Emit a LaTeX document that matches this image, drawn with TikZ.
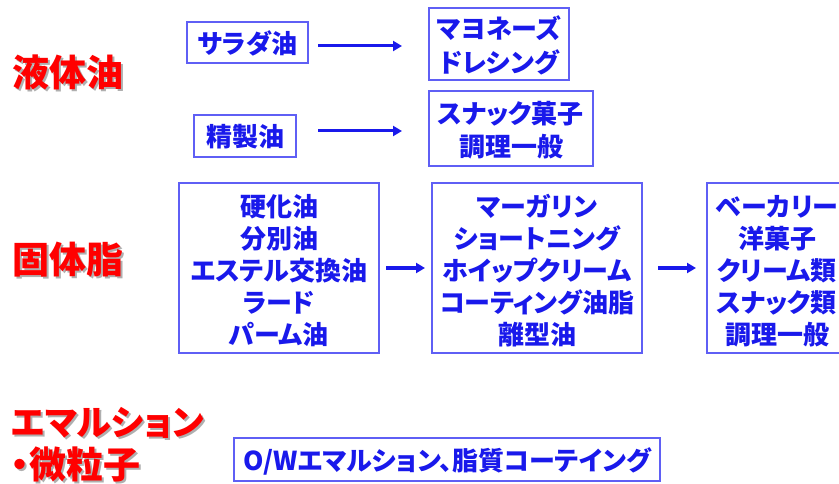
\documentclass[tikz,border=0pt]{standalone}
\usepackage{fontspec}
\setmainfont{Noto Sans CJK JP}[RawFeature=+palt]
\usetikzlibrary{arrows.meta}
\definecolor{txtblue}{RGB}{25,25,235}
\definecolor{boxblue}{RGB}{95,95,245}
\definecolor{lblred}{RGB}{255,0,0}
\definecolor{shgray}{RGB}{175,175,175}
\begin{document}
\begin{tikzpicture}[x=1pt,y=-1pt,
 box/.style={draw=boxblue, line width=1.3pt, inner sep=0pt},
 btxt/.style={text=txtblue, font=\fontsize{26}{32}\selectfont\bfseries, align=center, inner sep=0pt},
 btxttwo/.style={btxt, font=\fontsize{26}{33.5}\selectfont\bfseries},
 arr/.style={draw=txtblue, line width=3pt, -{Triangle[length=9pt,width=10pt]}},
 lbl/.style={text=lblred, font=\fontsize{37}{44}\selectfont\bfseries, anchor=west, inner sep=0pt},
 lblsh/.style={text=shgray, font=\fontsize{37}{44}\selectfont\bfseries, anchor=west, inner sep=0pt},
 lblsm/.style={lbl, font=\fontsize{35}{42}\selectfont\bfseries},
 lblshsm/.style={lblsh, font=\fontsize{35}{42}\selectfont\bfseries}]
\useasboundingbox (0,0) rectangle (839,484);
% left labels (shadow + text)
\node[lblsh] (l1s) at (14,74) {液体油};
\node[lbl] (l1) at (12,72) {液体油};
\node[lblsh] (l2s) at (14,262) {固体脂};
\node[lbl] (l2) at (12,260) {固体脂};
\node[lblshsm] (l3s) at (13,425) {エマルション};
\node[lblsm] (l3) at (11,423) {エマルション};
\node[lblsh] (l4s) at (13,466) {・微粒子};
\node[lbl] (l4) at (11,464) {・微粒子};
% boxes
\node[box, minimum width=121pt, minimum height=41pt] (salad) at (247.5,42.5) {};
\node[box, minimum width=140pt, minimum height=72pt] (mayo) at (499,44) {};
\node[box, minimum width=102pt, minimum height=42pt] (seisei) at (245,136) {};
\node[box, minimum width=164pt, minimum height=75pt] (snack) at (511,128.5) {};
\node[box, minimum width=200pt, minimum height=170pt] (kouka) at (279,268) {};
\node[box, minimum width=210pt, minimum height=170pt] (marg) at (537,268) {};
\node[box, minimum width=140pt, minimum height=170pt] (bake) at (777,268) {};
\node[box, minimum width=426pt, minimum height=43pt] (ow) at (447,459.5) {};
% box texts
\node[btxt] (saladt) at ([yshift=-1pt]salad.center) {サラダ油};
\node[btxttwo] (mayot) at ([yshift=-1.5pt]mayo.center) {マヨネーズ\\ドレシング};
\node[btxt] (seiseit) at ([yshift=-1pt]seisei.center) {精製油};
\node[btxttwo] (snackt) at ([yshift=-1.5pt]snack.center) {スナック菓子\\調理一般};
\node[btxt] (koukat) at ([yshift=-3pt]kouka.center) {硬化油\\分別油\\エステル交換油\\ラード\\パーム油};
\node[btxt] (margt) at ([yshift=-3pt]marg.center) {マーガリン\\ショートニング\\ホイップクリーム\\コーティング油脂\\離型油};
\node[btxt] (baket) at ([yshift=-3pt]bake.center) {ベーカリー\\洋菓子\\クリーム類\\スナック類\\調理一般};
\node[btxt] (owt) at ([yshift=-1.5pt]ow.center) {O/Wエマルション、脂質コーテイング};
% arrows
\coordinate (a1s) at (318,46);
\coordinate (a1e) at (402,46);
\coordinate (a2s) at (318,131);
\coordinate (a2e) at (402,131);
\coordinate (a3s) at (386,268);
\coordinate (a3e) at (425,268);
\coordinate (a4s) at (658,268);
\coordinate (a4e) at (696,268);
\draw[arr] (a1s) -- (a1e);
\draw[arr] (a2s) -- (a2e);
\draw[arr] (a3s) -- (a3e);
\draw[arr] (a4s) -- (a4e);
\end{tikzpicture}
\end{document}
